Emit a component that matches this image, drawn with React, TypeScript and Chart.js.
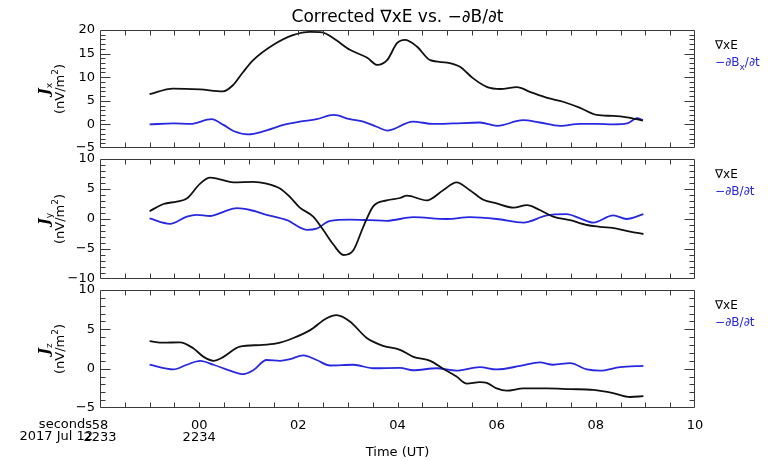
import React, { useEffect, useRef } from 'react';
import { Chart, registerables } from 'chart.js';

Chart.register(...registerables);

const FONT = 'DejaVu Sans';

// ---------- text ----------
const TITLE = 'Corrected ∇xE vs. −∂B/∂t';
const X_TITLE = 'Time (UT)';
const X_ROW_LABELS = ['seconds', '2017 Jul 12'];
const LEGEND_CURL = '∇xE';
const Y_COMPONENTS = ['x', 'y', 'z'];

// ---------- axes ----------
const X_MIN = -2;
const X_MAX = 10;
const X_STEP = 0.5;
const X_TICK_VALUES = [-2, 0, 2, 4, 6, 8, 10];
const X_TICK_SECONDS = ['58', '00', '02', '04', '06', '08', '10'];
const X_TICK_HHMM = ['2233', '2234', '', '', '', '', ''];

const Y_MIN = [-5, -10, -5];
const Y_MAX = [20, 10, 10];
const Y_STEP = 1;
const Y_LABEL_STEP = 5;

// ---------- data (seconds after 22:34:00 UT, nV/m^2) ----------
// Panel x
const T_CURL_X = [-1.0, -0.53, 0.02, 0.48, 0.68, 0.88, 1.09, 1.49, 1.89, 2.24, 2.48, 2.70, 3.04, 3.39, 3.59, 3.79, 3.99, 4.15, 4.39, 4.66, 5.00, 5.26, 5.52, 5.81, 6.07, 6.41, 6.67, 7.02, 7.34, 7.68, 8.02, 8.35, 8.63, 8.95];
const CURL_X = [6.4, 7.6, 7.4, 7.0, 8.3, 11.0, 13.6, 16.8, 18.9, 19.6, 19.5, 18.3, 15.8, 14.1, 12.6, 13.6, 17.2, 17.9, 16.5, 13.6, 13.1, 12.2, 9.8, 7.9, 7.5, 7.9, 6.9, 5.6, 4.8, 3.5, 2.0, 1.8, 1.5, 0.8];
const T_DBDT_X = [-1.0, -0.52, -0.18, 0.25, 0.49, 0.69, 0.99, 1.29, 1.70, 2.03, 2.37, 2.71, 3.04, 3.31, 3.58, 3.80, 4.31, 4.72, 5.12, 5.66, 6.01, 6.53, 6.87, 7.28, 7.68, 8.02, 8.35, 8.63, 8.83, 8.95];
const DBDT_X = [0.0, 0.2, 0.1, 1.1, -0.1, -1.4, -2.1, -1.5, -0.1, 0.6, 1.1, 2.0, 1.1, 0.6, -0.5, -1.3, 0.6, 0.1, 0.2, 0.4, -0.3, 0.9, 0.4, -0.3, 0.1, 0.1, 0.0, 0.2, 1.3, 0.9];

// Panel y
const T_CURL_Y = [-1.0, -0.72, -0.45, -0.25, 0.02, 0.22, 0.42, 0.69, 1.09, 1.36, 1.63, 1.83, 2.03, 2.30, 2.50, 2.71, 2.91, 3.11, 3.31, 3.51, 3.78, 4.05, 4.19, 4.59, 4.92, 5.19, 5.46, 5.73, 6.00, 6.34, 6.61, 6.87, 7.14, 7.48, 7.82, 8.08, 8.42, 8.69, 8.96];
const CURL_Y = [1.3, 2.5, 2.9, 3.4, 5.9, 6.9, 6.6, 6.1, 6.2, 5.9, 5.1, 3.7, 1.9, 0.4, -1.8, -4.3, -6.0, -5.2, -1.3, 2.1, 3.1, 3.5, 3.9, 3.1, 4.8, 6.1, 4.8, 3.2, 2.6, 1.9, 2.3, 1.5, 0.4, -0.2, -1.0, -1.3, -1.6, -2.1, -2.5];
const T_DBDT_Y = [-1.0, -0.59, -0.25, -0.05, 0.22, 0.49, 0.76, 1.03, 1.36, 1.77, 2.17, 2.37, 2.64, 3.04, 3.45, 3.78, 4.32, 4.99, 5.46, 6.00, 6.54, 7.01, 7.41, 7.68, 7.95, 8.35, 8.62, 8.96];
const DBDT_Y = [0.1, -0.8, 0.4, 0.7, 0.5, 1.2, 1.8, 1.5, 0.7, -0.2, -1.8, -1.6, -0.3, -0.1, -0.2, -0.3, 0.3, 0.0, 0.3, 0.0, -0.6, 0.6, 0.8, 0.1, -0.6, 0.6, 0.0, 0.8];

// Panel z
const T_CURL_Z = [-1.0, -0.72, -0.39, -0.12, 0.09, 0.29, 0.49, 0.82, 1.23, 1.56, 1.90, 2.24, 2.57, 2.77, 3.04, 3.38, 3.71, 4.05, 4.32, 4.66, 4.92, 5.19, 5.40, 5.66, 5.80, 6.00, 6.20, 6.54, 7.01, 7.48, 7.95, 8.35, 8.69, 8.96];
const CURL_Z = [3.5, 3.3, 3.35, 2.6, 1.5, 1.0, 1.5, 2.8, 3.0, 3.2, 3.9, 4.9, 6.4, 6.8, 6.0, 3.9, 2.9, 2.4, 1.5, 1.0, 0.0, -1.0, -1.9, -1.7, -1.8, -2.5, -2.8, -2.5, -2.5, -2.6, -2.7, -3.1, -3.6, -3.5];
const T_DBDT_Z = [-1.0, -0.52, -0.25, 0.02, 0.29, 0.62, 0.89, 1.09, 1.36, 1.63, 1.83, 2.10, 2.37, 2.64, 3.11, 3.51, 4.05, 4.32, 4.79, 5.19, 5.66, 6.00, 6.47, 6.87, 7.14, 7.48, 7.82, 8.08, 8.49, 8.96];
const DBDT_Z = [0.5, -0.1, 0.5, 1.0, 0.5, -0.25, -0.7, -0.2, 1.1, 1.0, 1.2, 1.7, 1.1, 0.4, 0.5, 0.05, 0.1, -0.2, 0.05, -0.25, 0.2, -0.1, 0.35, 0.8, 0.5, 0.7, -0.1, -0.25, 0.2, 0.35];

const CURL_T = [T_CURL_X, T_CURL_Y, T_CURL_Z];
const CURL_V = [CURL_X, CURL_Y, CURL_Z];
const DBDT_T = [T_DBDT_X, T_DBDT_Y, T_DBDT_Z];
const DBDT_V = [DBDT_X, DBDT_Y, DBDT_Z];

// ---------- style / layout ----------
const BLACK = '#111111';
const BLUE = 'rgb(40,40,225)';
const FRAME = '#3a3a3a';
const W = 768;
const H = 461;
const PANEL_TOP = [30, 159, 290];
const PANEL_BOTTOM = [148, 279, 408];
const PLOT_LEFT = 100;
const PLOT_RIGHT = 695;

type Part = { t: string; sub?: boolean; sup?: boolean; font?: string };

function drawRich(ctx: CanvasRenderingContext2D, parts: Part[], x: number, y: number, size: number, color: string, align: 'left' | 'center') {
  const base = `${size}px "${FONT}"`;
  const small = `${Math.round(size * 0.72)}px "${FONT}"`;
  const widths = parts.map((p) => {
    ctx.font = p.font || (p.sub || p.sup ? small : base);
    return ctx.measureText(p.t).width;
  });
  const total = widths.reduce((a, b) => a + b, 0);
  let cx = align === 'center' ? x - total / 2 : x;
  ctx.fillStyle = color;
  ctx.textBaseline = 'middle';
  ctx.textAlign = 'left';
  parts.forEach((p, i) => {
    ctx.font = p.font || (p.sub || p.sup ? small : base);
    const dy = p.sub ? size * 0.35 : p.sup ? -size * 0.4 : 0;
    ctx.fillText(p.t, cx, y + dy);
    cx += widths[i];
  });
}

const framePlugin = {
  id: 'frameTicks',
  afterDraw(chart: any) {
    const ctx: CanvasRenderingContext2D = chart.ctx;
    const a = chart.chartArea;
    const xs = chart.scales.x;
    const ys = chart.scales.y;
    const L = Math.round(a.left) + 0.5;
    const R = Math.round(a.right) - 0.5;
    const T = Math.round(a.top) + 0.5;
    const B = Math.round(a.bottom) - 0.5;
    ctx.save();
    ctx.strokeStyle = FRAME;
    ctx.lineWidth = 1;
    ctx.beginPath();
    ctx.moveTo(L, T);
    ctx.lineTo(R, T);
    ctx.lineTo(R, B);
    ctx.lineTo(L, B);
    ctx.closePath();
    const nx = Math.round((X_MAX - X_MIN) / X_STEP);
    for (let k = 1; k < nx; k++) {
      const v = X_MIN + k * X_STEP;
      const px = Math.round(xs.getPixelForValue(v)) + 0.5;
      ctx.moveTo(px, B);
      ctx.lineTo(px, B - 5);
      ctx.moveTo(px, T);
      ctx.lineTo(px, T + 5);
    }
    const lo = ys.min;
    const ny = Math.round((ys.max - ys.min) / Y_STEP);
    for (let k = 1; k < ny; k++) {
      const v = lo + k * Y_STEP;
      const py = Math.round(ys.getPixelForValue(v)) + 0.5;
      const len = v % Y_LABEL_STEP === 0 ? 10 : 5;
      ctx.moveTo(L, py);
      ctx.lineTo(L + len, py);
      ctx.moveTo(R, py);
      ctx.lineTo(R - len, py);
    }
    ctx.stroke();
    ctx.restore();
  },
};

const textPlugin = {
  id: 'panelTexts',
  afterDraw(chart: any) {
    const idx: number = chart.options.plugins.panelTexts.index;
    const { ctx, chartArea: a } = chart;
    ctx.save();
    const cy = (a.top + a.bottom) / 2;
    ctx.save();
    ctx.translate(45, cy);
    ctx.rotate(-Math.PI / 2);
    drawRich(ctx, [{ t: 'J', font: `italic bold 14px "DejaVu Serif"` }, { t: Y_COMPONENTS[idx], sub: true }], 0, 0, 13, '#000', 'center');
    ctx.restore();
    ctx.save();
    ctx.translate(61, cy);
    ctx.rotate(-Math.PI / 2);
    drawRich(ctx, [{ t: '(nV/m' }, { t: '2', sup: true }, { t: ')' }], 0, 0, 13, '#000', 'center');
    ctx.restore();
    drawRich(ctx, [{ t: LEGEND_CURL }], 715, a.top + 16, 12, '#000', 'left');
    const blue: Part[] = idx === 0
      ? [{ t: '−∂B' }, { t: Y_COMPONENTS[0], sub: true }, { t: '/∂t' }]
      : [{ t: '−∂B/∂t' }];
    drawRich(ctx, blue, 715, a.top + 33, 12, BLUE, 'left');
    if (idx === 2) {
      ctx.font = `13px "${FONT}"`;
      ctx.fillStyle = '#000';
      ctx.textAlign = 'right';
      ctx.textBaseline = 'middle';
      ctx.fillText(X_ROW_LABELS[0], 92, a.bottom + 17);
      ctx.fillText(X_ROW_LABELS[1], 93, a.bottom + 29);
    }
    ctx.restore();
  },
};

function makeConfig(i: number): any {
  const bottom = i === 2;
  const curl = CURL_T[i].map((t, k) => ({ x: t, y: CURL_V[i][k] }));
  const dbdt = DBDT_T[i].map((t, k) => ({ x: t, y: DBDT_V[i][k] }));
  return {
    type: 'line',
    data: {
      datasets: [
        { data: curl, borderColor: BLACK, borderWidth: 1.8, pointRadius: 0, cubicInterpolationMode: 'monotone', fill: false },
        { data: dbdt, borderColor: BLUE, borderWidth: 1.8, pointRadius: 0, cubicInterpolationMode: 'monotone', fill: false },
      ],
    },
    options: {
      responsive: false,
      animation: false,
      devicePixelRatio: 1,
      events: [],
      layout: {
        padding: {
          left: 0,
          right: W - PLOT_RIGHT,
          top: i === 0 ? 0 : PANEL_TOP[i],
          bottom: bottom ? 0 : H - PANEL_BOTTOM[i],
        },
      },
      plugins: {
        legend: { display: false },
        tooltip: { enabled: false },
        panelTexts: { index: i },
        title: i === 0
          ? {
              display: true,
              text: TITLE,
              fullSize: false,
              color: '#000',
              font: { family: FONT, size: 17, weight: 'normal', lineHeight: 1.2 },
              padding: { top: 7.3, bottom: PANEL_TOP[0] - 7.3 - 17 * 1.2 },
            }
          : { display: false },
      },
      scales: {
        x: {
          type: 'linear',
          min: X_MIN,
          max: X_MAX,
          grid: { display: false, drawTicks: false },
          border: { display: false },
          ticks: {
            display: bottom,
            stepSize: X_STEP,
            maxTicksLimit: 1000,
            autoSkip: false,
            maxRotation: 0,
            minRotation: 0,
            padding: 12,
            color: '#000',
            font: { family: FONT, size: 13, lineHeight: 12 / 13 },
            callback: (v: number) => {
              const k = X_TICK_VALUES.indexOf(v);
              if (k < 0) return '';
              return X_TICK_HHMM[k] ? [X_TICK_SECONDS[k], X_TICK_HHMM[k]] : X_TICK_SECONDS[k];
            },
          },
          title: bottom
            ? { display: true, text: X_TITLE, color: '#000', font: { family: FONT, size: 13, lineHeight: 1.2 }, padding: { top: 0, bottom: 1 } }
            : { display: false },
          afterFit: (s: any) => {
            s.height = bottom ? H - PANEL_BOTTOM[2] : 0;
          },
        },
        y: {
          type: 'linear',
          min: Y_MIN[i],
          max: Y_MAX[i],
          grid: { display: false, drawTicks: false },
          border: { display: false },
          ticks: {
            stepSize: Y_STEP,
            maxTicksLimit: 1000,
            autoSkip: false,
            padding: 5,
            color: '#000',
            font: { family: FONT, size: 13 },
            callback: (v: number) => (v % Y_LABEL_STEP === 0 ? String(v).replace('-', '−') : ''),
          },
          afterFit: (s: any) => {
            s.width = PLOT_LEFT;
          },
        },
      },
    },
    plugins: [framePlugin, textPlugin],
  };
}

function PanelCanvas({ index }: { index: number }) {
  const ref = useRef<HTMLCanvasElement | null>(null);
  useEffect(() => {
    if (!ref.current) return;
    const chart = new Chart(ref.current, makeConfig(index));
    return () => chart.destroy();
  }, [index]);
  return (
    <canvas
      ref={ref}
      width={W}
      height={H}
      style={{ position: 'absolute', left: 0, top: 0, width: W, height: H }}
    />
  );
}

export default function App() {
  return (
    <div style={{ position: 'absolute', left: 0, top: 0, width: W, height: H, background: '#fff', overflow: 'hidden' }}>
      {[0, 1, 2].map((i) => (
        <PanelCanvas key={i} index={i} />
      ))}
    </div>
  );
}
